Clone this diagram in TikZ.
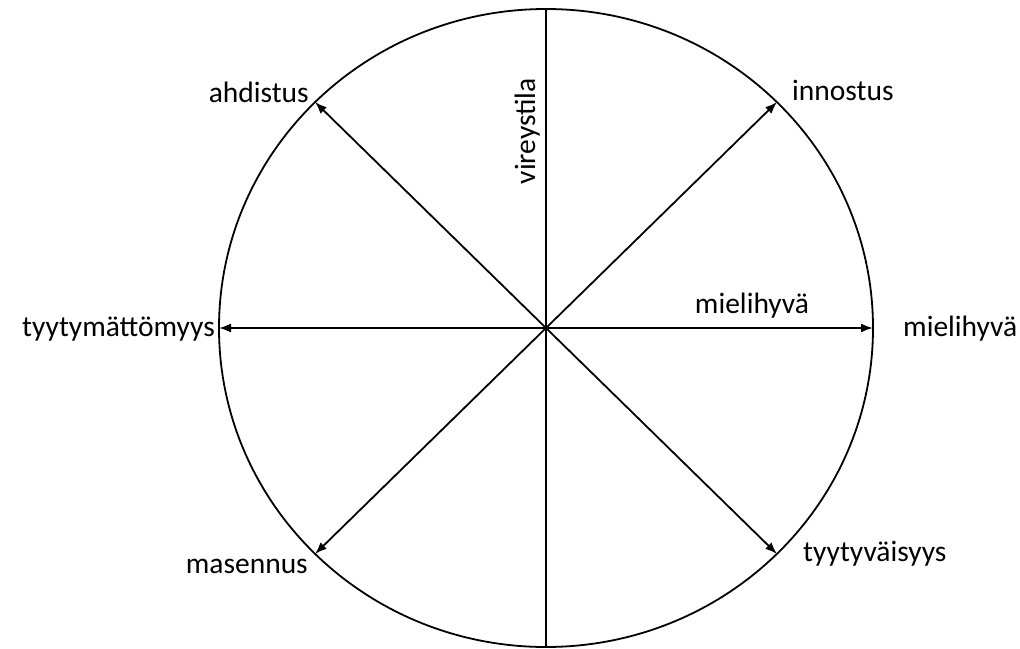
\documentclass[tikz,border=0pt]{standalone}
\usepackage{fontspec}
\setmainfont{Carlito}
\usetikzlibrary{arrows.meta,positioning}

\begin{document}
\begin{tikzpicture}[x=1pt,y=-1pt,
  every node/.style={font=\fontsize{29.5}{33}\selectfont,inner sep=2pt},
  >={Latex[length=12pt,width=9pt]},
  rim/.style={line width=1.8pt},
  ray/.style={->,line width=1.8pt},
  lbl/.style={text=black}
]
\useasboundingbox (0,0) rectangle (1020,648);
\coordinate (O) at (546,328);
\draw[rim] (O) ellipse [x radius=327, y radius=319];

% tips on the rim
\coordinate (top) at (546,9);
\coordinate (bot) at (546,647);
\coordinate (tW)  at (219,328);
\coordinate (tE)  at (873,328);
\coordinate (tNW) at (315,102);
\coordinate (tNE) at (777,102);
\coordinate (tSW) at (315,554);
\coordinate (tSE) at (777,554);

\draw[rim] (top) -- (bot);
\draw[ray] (O) -- (tW);
\draw[ray] (O) -- (tE);
\draw[ray] (O) -- (tNW);
\draw[ray] (O) -- (tNE);
\draw[ray] (O) -- (tSW);
\draw[ray] (O) -- (tSE);

\node[lbl,anchor=east]  (lNW) at (311,92)  {ahdistus};
\node[lbl,anchor=west]  (lNE) at (790,90)  {innostus};
\node[lbl,anchor=east]  (lW)  at (217,329) {tyytymättömyys};
\node[lbl,anchor=west]  (lE)  at (901,329) {mielihyvä};
\node[lbl,anchor=east]  (lSW) at (310,566) {masennus};
\node[lbl,anchor=west]  (lSE) at (801,554) {tyytyväisyys};
\node[lbl,anchor=south] (lX)  at (752,320) {mielihyvä};
\node[lbl,rotate=90,anchor=south east] (lY) at (542,76) {vireystila};
\end{tikzpicture}
\end{document}
